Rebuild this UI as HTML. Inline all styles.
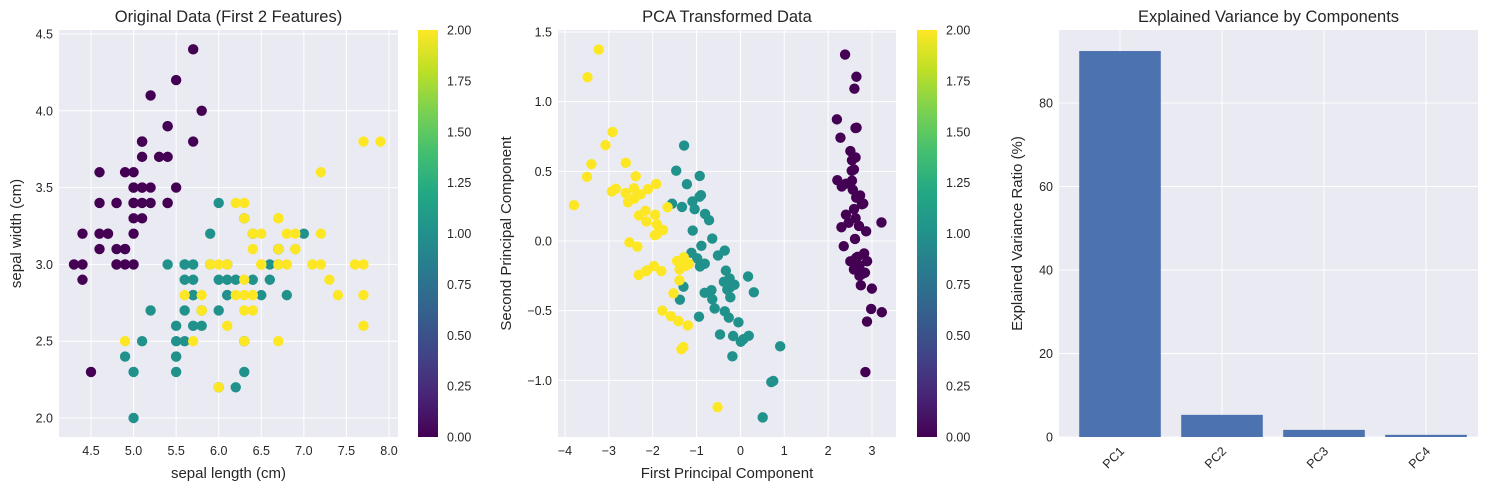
<!DOCTYPE html>
<html><head><meta charset="utf-8">
<style>
html,body{margin:0;padding:0;background:#fff;}
svg{display:block;font-family:"Liberation Sans",sans-serif;}
</style></head>
<body>
<svg id="fig" width="1489" height="490" viewBox="0 0 1489 490" xmlns="http://www.w3.org/2000/svg">
<defs>
<linearGradient id="viridis" x1="0" y1="1" x2="0" y2="0">
<stop offset="0" stop-color="#440154"/><stop offset="0.1" stop-color="#482475"/>
<stop offset="0.2" stop-color="#414487"/><stop offset="0.3" stop-color="#355f8d"/>
<stop offset="0.4" stop-color="#2a788e"/><stop offset="0.5" stop-color="#21918c"/>
<stop offset="0.6" stop-color="#22a884"/><stop offset="0.7" stop-color="#44bf70"/>
<stop offset="0.8" stop-color="#7ad151"/><stop offset="0.9" stop-color="#bddf26"/>
<stop offset="1" stop-color="#fde725"/>
</linearGradient>
</defs>
</svg>
<script>
// ---- data ----
const irisFeatures = [
[5.1,3.5,1.4,0.2],[4.9,3.0,1.4,0.2],[4.7,3.2,1.3,0.2],[4.6,3.1,1.5,0.2],[5.0,3.6,1.4,0.2],
[5.4,3.9,1.7,0.4],[4.6,3.4,1.4,0.3],[5.0,3.4,1.5,0.2],[4.4,2.9,1.4,0.2],[4.9,3.1,1.5,0.1],
[5.4,3.7,1.5,0.2],[4.8,3.4,1.6,0.2],[4.8,3.0,1.4,0.1],[4.3,3.0,1.1,0.1],[5.8,4.0,1.2,0.2],
[5.7,4.4,1.5,0.4],[5.4,3.9,1.3,0.4],[5.1,3.5,1.4,0.3],[5.7,3.8,1.7,0.3],[5.1,3.8,1.5,0.3],
[5.4,3.4,1.7,0.2],[5.1,3.7,1.5,0.4],[4.6,3.6,1.0,0.2],[5.1,3.3,1.7,0.5],[4.8,3.4,1.9,0.2],
[5.0,3.0,1.6,0.2],[5.0,3.4,1.6,0.4],[5.2,3.5,1.5,0.2],[5.2,3.4,1.4,0.2],[4.7,3.2,1.6,0.2],
[4.8,3.1,1.6,0.2],[5.4,3.4,1.5,0.4],[5.2,4.1,1.5,0.1],[5.5,4.2,1.4,0.2],[4.9,3.1,1.5,0.2],
[5.0,3.2,1.2,0.2],[5.5,3.5,1.3,0.2],[4.9,3.6,1.4,0.1],[4.4,3.0,1.3,0.2],[5.1,3.4,1.5,0.2],
[5.0,3.5,1.3,0.3],[4.5,2.3,1.3,0.3],[4.4,3.2,1.3,0.2],[5.0,3.5,1.6,0.6],[5.1,3.8,1.9,0.4],
[4.8,3.0,1.4,0.3],[5.1,3.8,1.6,0.2],[4.6,3.2,1.4,0.2],[5.3,3.7,1.5,0.2],[5.0,3.3,1.4,0.2],
[7.0,3.2,4.7,1.4],[6.4,3.2,4.5,1.5],[6.9,3.1,4.9,1.5],[5.5,2.3,4.0,1.3],[6.5,2.8,4.6,1.5],
[5.7,2.8,4.5,1.3],[6.3,3.3,4.7,1.6],[4.9,2.4,3.3,1.0],[6.6,2.9,4.6,1.3],[5.2,2.7,3.9,1.4],
[5.0,2.0,3.5,1.0],[5.9,3.0,4.2,1.5],[6.0,2.2,4.0,1.0],[6.1,2.9,4.7,1.4],[5.6,2.9,3.6,1.3],
[6.7,3.1,4.4,1.4],[5.6,3.0,4.5,1.5],[5.8,2.7,4.1,1.0],[6.2,2.2,4.5,1.5],[5.6,2.5,3.9,1.1],
[5.9,3.2,4.8,1.8],[6.1,2.8,4.0,1.3],[6.3,2.5,4.9,1.5],[6.1,2.8,4.7,1.2],[6.4,2.9,4.3,1.3],
[6.6,3.0,4.4,1.4],[6.8,2.8,4.8,1.4],[6.7,3.0,5.0,1.7],[6.0,2.9,4.5,1.5],[5.7,2.6,3.5,1.0],
[5.5,2.4,3.8,1.1],[5.5,2.4,3.7,1.0],[5.8,2.7,3.9,1.2],[6.0,2.7,5.1,1.6],[5.4,3.0,4.5,1.5],
[6.0,3.4,4.5,1.6],[6.7,3.1,4.7,1.5],[6.3,2.3,4.4,1.3],[5.6,3.0,4.1,1.3],[5.5,2.5,4.0,1.3],
[5.5,2.6,4.4,1.2],[6.1,3.0,4.6,1.4],[5.8,2.6,4.0,1.2],[5.0,2.3,3.3,1.0],[5.6,2.7,4.2,1.3],
[5.7,3.0,4.2,1.2],[5.7,2.9,4.2,1.3],[6.2,2.9,4.3,1.3],[5.1,2.5,3.0,1.1],[5.7,2.8,4.1,1.3],
[6.3,3.3,6.0,2.5],[5.8,2.7,5.1,1.9],[7.1,3.0,5.9,2.1],[6.3,2.9,5.6,1.8],[6.5,3.0,5.8,2.2],
[7.6,3.0,6.6,2.1],[4.9,2.5,4.5,1.7],[7.3,2.9,6.3,1.8],[6.7,2.5,5.8,1.8],[7.2,3.6,6.1,2.5],
[6.5,3.2,5.1,2.0],[6.4,2.7,5.3,1.9],[6.8,3.0,5.5,2.1],[5.7,2.5,5.0,2.0],[5.8,2.8,5.1,2.4],
[6.4,3.2,5.3,2.3],[6.5,3.0,5.5,1.8],[7.7,3.8,6.7,2.2],[7.7,2.6,6.9,2.3],[6.0,2.2,5.0,1.5],
[6.9,3.2,5.7,2.3],[5.6,2.8,4.9,2.0],[7.7,2.8,6.7,2.0],[6.3,2.7,4.9,1.8],[6.7,3.3,5.7,2.1],
[7.2,3.2,6.0,1.8],[6.2,2.8,4.8,1.8],[6.1,3.0,4.9,1.8],[6.4,2.8,5.6,2.1],[7.2,3.0,5.8,1.6],
[7.4,2.8,6.1,1.9],[7.9,3.8,6.4,2.0],[6.4,2.8,5.6,2.2],[6.3,2.8,5.1,1.5],[6.1,2.6,5.6,1.4],
[7.7,3.0,6.1,2.3],[6.3,3.4,5.6,2.4],[6.4,3.1,5.5,1.8],[6.0,3.0,4.8,1.8],[6.9,3.1,5.4,2.1],
[6.7,3.1,5.6,2.4],[6.9,3.1,5.1,2.3],[5.8,2.7,5.1,1.9],[6.8,3.2,5.9,2.3],[6.7,3.3,5.7,2.5],
[6.7,3.0,5.2,2.3],[6.3,2.5,5.0,1.9],[6.5,3.0,5.2,2.0],[6.2,3.4,5.4,2.3],[5.9,3.0,5.1,1.8]
];
const irisClass = [].concat(Array(50).fill(0),Array(50).fill(1),Array(50).fill(2));
const pcaMean = [5.8433,3.0573,3.7580,1.1993];
const pcaComp1 = [-0.36139,0.08452,-0.85667,-0.35829];
const pcaComp2 = [0.65659,0.73016,-0.17338,-0.07548];
const varCategories = ["PC1","PC2","PC3","PC4"];
const varValues = [92.46,5.31,1.71,0.52];
const xTicks1 = [4.5,5.0,5.5,6.0,6.5,7.0,7.5,8.0];
const yTicks1 = [2.0,2.5,3.0,3.5,4.0,4.5];
const xTicks2 = [-4,-3,-2,-1,0,1,2,3];
const yTicks2 = [-1.0,-0.5,0.0,0.5,1.0,1.5];
const yTicks3 = [0,20,40,60,80];
const cbTicks = [0,0.25,0.5,0.75,1.0,1.25,1.5,1.75,2.0];

const NS="http://www.w3.org/2000/svg";
const svg=document.getElementById('fig');
function el(tag,attrs,parent,text){const e=document.createElementNS(NS,tag);for(const k in attrs)e.setAttribute(k,attrs[k]);if(text!==undefined)e.textContent=text;(parent||svg).appendChild(e);return e;}
const classColor=["#440154","#21918c","#fde725"];
const TXT="#262626";

function lin(d0,d1,r0,r1){return v=>r0+(v-d0)*(r1-r0)/(d1-d0);}
function fmtMinus(s){return s.replace('-','\u2212');}

function axesFrame(name,L,R,T,B){
  const g=el('g',{});
  
  
  el('rect',{x:L,y:T,width:R-L,height:B-T,fill:'#eaeaf2'},g);
  return g;
}
function gridX(g,ticks,sx,T,B,fmt,name){
  ticks.forEach(t=>{const x=sx(t);
    el('line',{x1:x,x2:x,y1:T,y2:B,stroke:'#fff','stroke-width':1},g);
    const tx=el('text',{x:x,y:B+18,'text-anchor':'middle','font-size':12.5,fill:TXT},g,fmtMinus(fmt(t)));
    
    
  });
}
function gridY(g,ticks,sy,L,R,fmt,name){
  ticks.forEach(t=>{const y=sy(t);
    el('line',{x1:L,x2:R,y1:y,y2:y,stroke:'#fff','stroke-width':1},g);
    const tx=el('text',{x:L-6,y:y+4.5,'text-anchor':'end','font-size':12.5,fill:TXT},g,fmtMinus(fmt(t)));
    
    
  });
}
function title(g,x,y,s){const t=el('text',{x:x,y:y,'text-anchor':'middle','font-size':16.5,fill:TXT},g,s);
  
  }
function xlabel(g,x,y,s){const t=el('text',{x:x,y:y,'text-anchor':'middle','font-size':15,fill:TXT},g,s);
  
  }
function ylabel(g,x,y,s){const t=el('text',{x:x,y:y,'text-anchor':'middle','font-size':15,fill:TXT,transform:`rotate(-90 ${x} ${y})`},g,s);
  
  }
function colorbar(x,T,B){
  const g=el('g',{});
  
  
  el('rect',{x:x,y:T,width:20,height:B-T,fill:'url(#viridis)'},g);
  const s=lin(0,2,B,T);
  cbTicks.forEach(t=>{const tx=el('text',{x:x+29,y:s(t)+4.5,'font-size':12.5,fill:TXT},g,t.toFixed(2));
    
    });
}

// ---- panel 1 ----
(function(){
  const L=59,R=398,T=30,B=437;
  const sx=lin(4.5,8.0,91,389), sy=lin(2.0,4.5,418,34);
  const g=axesFrame('original-data-scatter',L,R,T,B);
  gridX(g,xTicks1,sx,T,B,v=>v.toFixed(1),'x-tick');
  gridY(g,yTicks1,sy,L,R,v=>v.toFixed(1),'y-tick');
  irisFeatures.forEach((r,i)=>{
    const c=el('circle',{cx:sx(r[0]),cy:sy(r[1]),r:5.2,fill:classColor[irisClass[i]]},g);
    
    
  });
  title(g,(L+R)/2,22,'Original Data (First 2 Features)');
  xlabel(g,(L+R)/2,478,'sepal length (cm)');
  ylabel(g,21,(T+B)/2,'sepal width (cm)');
  colorbar(418,T,B);
})();

// ---- panel 2 ----
(function(){
  const L=558,R=896,T=30,B=437;
  const sx=lin(-4,3,565,872), sy=lin(0,1.5,241,32);
  const g=axesFrame('pca-scatter',L,R,T,B);
  gridX(g,xTicks2,sx,T,B,v=>String(v),'x-tick');
  gridY(g,yTicks2,sy,L,R,v=>v.toFixed(1),'y-tick');
  irisFeatures.forEach((r,i)=>{
    let p1=0,p2=0;
    for(let k=0;k<4;k++){p1+=(r[k]-pcaMean[k])*pcaComp1[k];p2+=(r[k]-pcaMean[k])*pcaComp2[k];}
    const c=el('circle',{cx:sx(p1),cy:sy(p2),r:5.2,fill:classColor[irisClass[i]]},g);
    
    
  });
  title(g,(L+R)/2,22,'PCA Transformed Data');
  xlabel(g,(L+R)/2,478,'First Principal Component');
  ylabel(g,511,(T+B)/2,'Second Principal Component');
  colorbar(917,T,B);
})();

// ---- panel 3 ----
(function(){
  const L=1059,R=1478,T=30,B=437;
  const sx=lin(0,1,1120,1222), sy=lin(0,97.5,B,T);
  const g=axesFrame('explained-variance-bar-chart',L,R,T,B);
  gridY(g,yTicks3,sy,L,R,v=>String(v),'y-tick');
  varCategories.forEach((c,i)=>{
    const x=sx(i);
    el('line',{x1:x,x2:x,y1:T,y2:B,stroke:'#fff','stroke-width':1},g);
    const t=el('text',{x:x+5,y:B+15,'text-anchor':'end','font-size':12.5,fill:TXT,transform:`rotate(-45 ${x+5} ${B+15})`},g,c);
    
    
  });
  const bw=0.8*102;
  varValues.forEach((v,i)=>{
    const x=sx(i);
    const b=el('rect',{x:x-bw/2,y:sy(v),width:bw,height:B-sy(v),fill:'#4c72b0'},g);
    
    
  });
  title(g,(L+R)/2,22,'Explained Variance by Components');
  ylabel(g,1022,(T+B)/2,'Explained Variance Ratio (%)');
})();
</script>
</body></html>
